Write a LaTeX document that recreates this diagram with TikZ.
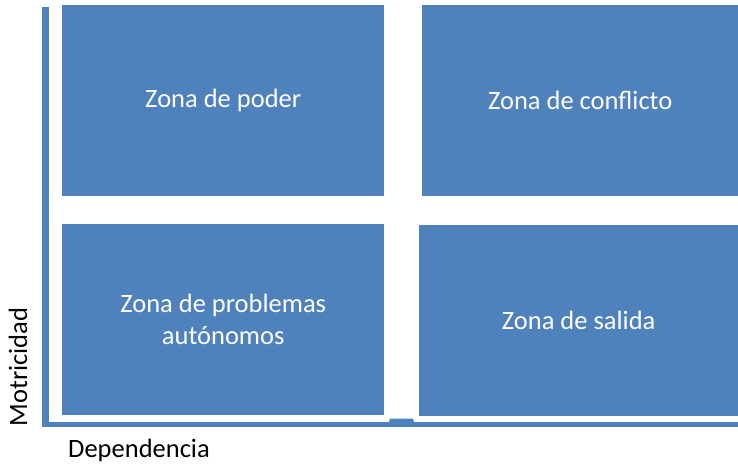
\documentclass[tikz,border=0pt]{standalone}
\usepackage{fontspec}
\setmainfont{Carlito}
\usepackage{tikz}

\definecolor{zonablue}{HTML}{4F81BD}

\tikzset{
    zona/.style={fill=zonablue, text=white, anchor=north west, inner sep=0pt,
        align=center, font=\fontsize{26.5}{32}\selectfont},
    eje/.style={zonablue, line cap=butt},
    etiqueta/.style={text=black, font=\fontsize{26.5}{32}\selectfont}
}

\begin{document}
\begin{tikzpicture}[x=1pt, y=-1pt]
    \useasboundingbox (0,0) rectangle (738,463);

    % Draw the four zones
    \node[zona, minimum width=322pt, minimum height=191pt] (poder) at (62,5) {Zona de poder};
    \node[zona, minimum width=316pt, minimum height=191pt] (conflicto) at (422,5) {Zona de conflicto};
    \node[zona, minimum width=322pt, minimum height=191pt] (autonomos) at (62,224) {Zona de problemas\\autónomos};
    \node[zona, minimum width=319pt, minimum height=191pt] (salida) at (419,225) {Zona de salida};

    % Draw the axes
    \coordinate (origen) at (45.5,424);
    \coordinate (arriba) at (45.5,6.5);
    \coordinate (derecha) at (738,424);
    \draw[eje, line width=7.6pt] (arriba) -- (origen |- 0,426.5);
    \draw[eje, line width=5pt] (41.7,424) -- (derecha);
    \fill[zonablue] (388,426) -- (390,418.5) -- (413,418.5) -- (415,426) -- cycle;

    % Label the axes
    \node[etiqueta, rotate=90] (motricidad) at (18,367) {Motricidad};
    \node[etiqueta] (dependencia) at (139,450) {Dependencia};
\end{tikzpicture}
\end{document}
